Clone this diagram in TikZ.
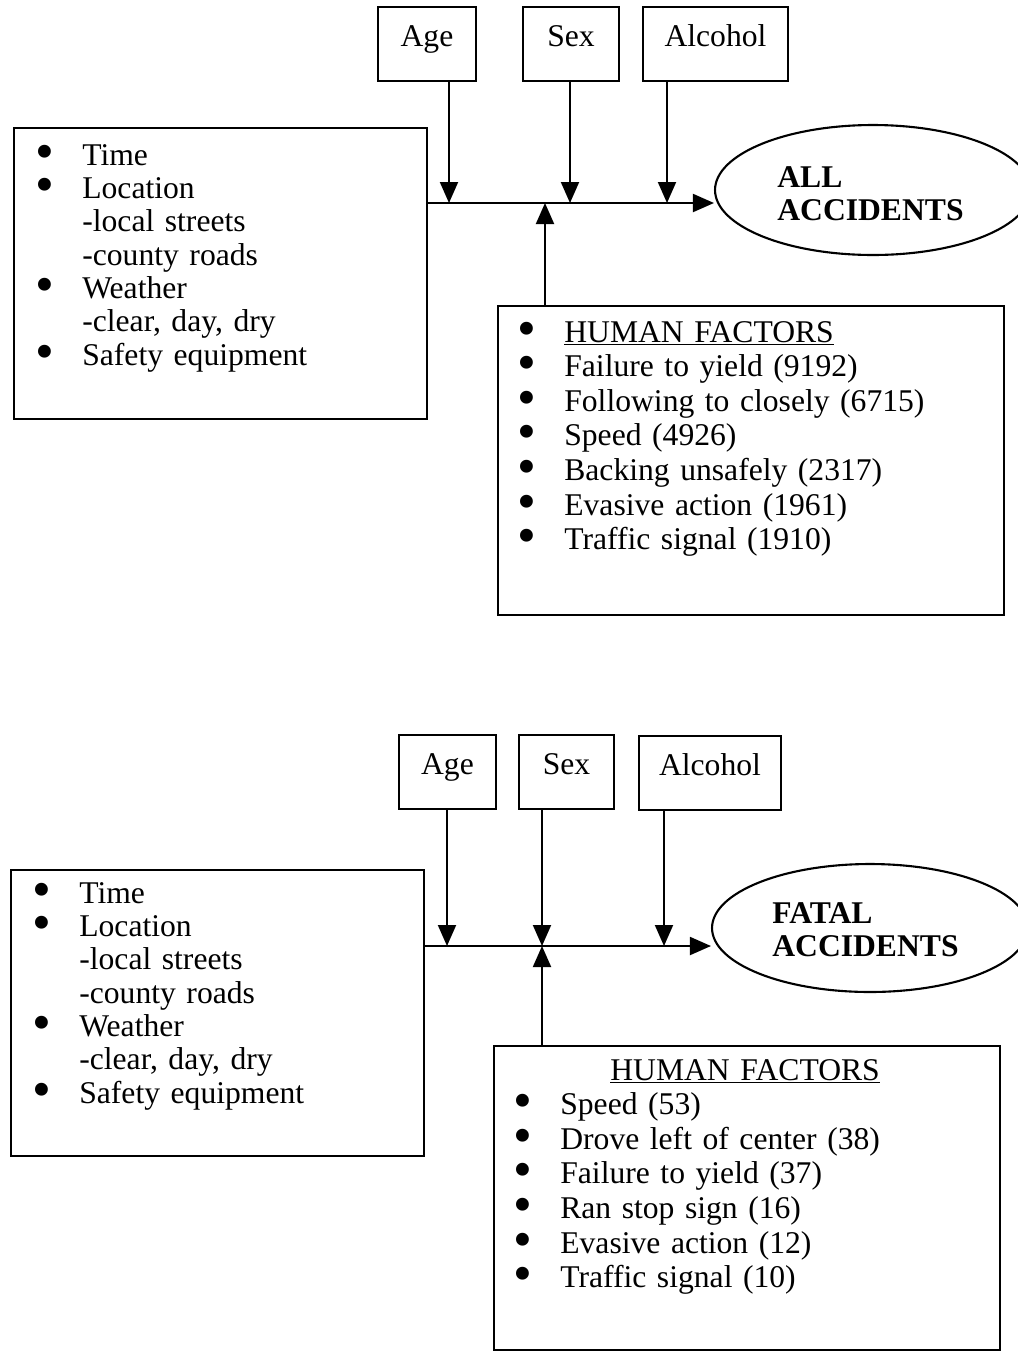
\documentclass[tikz,border=0pt]{standalone}
\usepackage{fontspec}
\setmainfont{Liberation Serif}
\usetikzlibrary{arrows.meta,shapes.geometric}
\tikzset{
  every node/.style={font=\fontsize{18}{19}\selectfont, text=black},
  panel/.style={draw, line width=1.3pt, inner sep=0pt, anchor=north west},
  factor/.style={draw, line width=1.3pt, inner xsep=0pt, inner ysep=0pt, text height=0.78cm, text depth=0.70cm, anchor=north},
  outcome/.style={draw, ellipse, line width=1.2pt, minimum width=6.32cm, minimum height=2.6cm, inner sep=0pt},
  listtext/.style={inner sep=0pt, text width=9.4cm, align=left, anchor=base west},
  humtext/.style={listtext, font=\fontsize{18}{19.7}\selectfont},
  outtext/.style={listtext, text width=4.5cm, font=\fontsize{18}{18.8}\selectfont\bfseries},
  flow/.style={-{Triangle[length=0.42cm,width=0.36cm]}, line width=1.1pt},
}
\newcommand{\bul}{\makebox[0.94cm][l]{\smash{\raisebox{-0.13em}{\scalebox{1.7}{\textbullet}}}}}
\newcommand{\cont}{\hspace*{0.94cm}}

\begin{document}
\begin{tikzpicture}[x=0.02cm, y=-0.02cm]
  \clip (0,0) rectangle (1018,1353);
  \fill[white] (0,0) rectangle (1018,1353);

  % All accidents
  \node[factor, minimum width=1.96cm] (ageA) at (427,6) {Age};
  \node[factor, minimum width=1.92cm] (sexA) at (571,6) {Sex};
  \node[factor, minimum width=2.90cm] (alcA) at (715.5,6) {Alcohol};
  \node[panel, minimum width=8.26cm, minimum height=5.82cm] (ctxA) at (13,127) {};
  \node[listtext] (ctxAtxt) at (35,165)
    {\bul Time\\ \bul Location\\ \cont -local streets\\ \cont -county roads\\
     \bul Weather\\ \cont -clear, day, dry\\ \bul Safety equipment};
  \node[outcome, minimum width=6.32cm, minimum height=2.6cm] (accA) at (873,190) {};
  \node[outtext] (accAtxt) at (777,187) {ALL\\ACCIDENTS};
  \node[panel, minimum width=10.12cm, minimum height=6.18cm] (humA) at (497,305) {};
  \node[humtext] (humAtxt) at (517,342)
    {\bul \underline{HUMAN FACTORS}\\ \bul Failure to yield (9192)\\
     \bul Following to closely (6715)\\ \bul Speed (4926)\\
     \bul Backing unsafely (2317)\\ \bul Evasive action (1961)\\
     \bul Traffic signal (1910)};
  \coordinate (hubA) at (545,203);
  \draw[flow] (ctxA.east |- hubA) -- (accA.west |- hubA);
  \foreach \n/\x in {ageA/449, sexA/570, alcA/667} {
    \coordinate (j\n) at (\x,203);
    \draw[flow] (\n.south -| j\n) -- (j\n);
  }
  \draw[flow] (humA.north -| hubA) -- (hubA);

  % Fatal accidents
  \node[factor, minimum width=1.94cm] (ageB) at (447.5,734) {Age};
  \node[factor, minimum width=1.90cm] (sexB) at (566.5,734) {Sex};
  \node[factor, minimum width=2.84cm] (alcB) at (710,735) {Alcohol};
  \node[panel, minimum width=8.26cm, minimum height=5.72cm] (ctxB) at (10,869) {};
  \node[listtext] (ctxBtxt) at (32,903)
    {\bul Time\\ \bul Location\\ \cont -local streets\\ \cont -county roads\\
     \bul Weather\\ \cont -clear, day, dry\\ \bul Safety equipment};
  \node[outcome, minimum width=6.32cm, minimum height=2.56cm] (accB) at (870,928) {};
  \node[outtext] (accBtxt) at (772,923) {FATAL\\ACCIDENTS};
  \node[panel, minimum width=10.12cm, minimum height=6.08cm] (humB) at (493,1045) {};
  \node[humtext] (humBtxt) at (513,1080)
    {\hspace*{1.94cm}\underline{HUMAN FACTORS}\\ \bul Speed (53)\\
     \bul Drove left of center (38)\\ \bul Failure to yield (37)\\
     \bul Ran stop sign (16)\\ \bul Evasive action (12)\\
     \bul Traffic signal (10)};
  \coordinate (hubB) at (542,946);
  \draw[flow] (ctxB.east |- hubB) -- (accB.west |- hubB);
  \foreach \n/\x in {ageB/447, sexB/542, alcB/664} {
    \coordinate (j\n) at (\x,946);
    \draw[flow] (\n.south -| j\n) -- (j\n);
  }
  \draw[flow] (humB.north -| hubB) -- (hubB);
\end{tikzpicture}
\end{document}
